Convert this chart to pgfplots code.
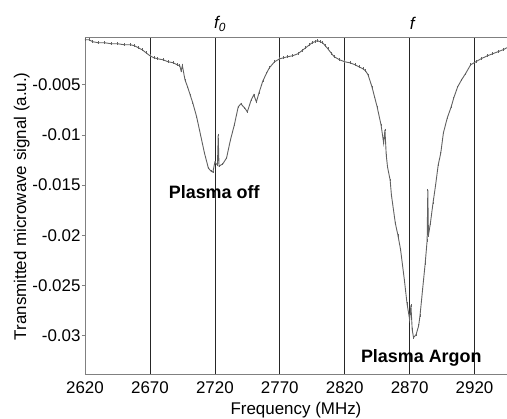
\documentclass[border=0pt]{standalone}
\usepackage{pgfplots}
\pgfplotsset{compat=1.18}
\usepackage{fontspec}
\setmainfont{Liberation Sans}
\begin{document}
\begin{tikzpicture}
\begin{axis}[
  name=ax,
  scale only axis,
  width=422bp, height=337bp,
  xmin=2620, xmax=2945, ymin=-0.0339, ymax=-0.0003,
  axis x line*=box, axis y line*=left,
  axis line style={gray, line width=1pt},
  /pgf/number format/assume math mode=true,
  tick label style={font=\fontsize{17}{20}\selectfont},
  label style={font=\fontsize{17}{20}\selectfont},
  xtick={2620,2670,2720,2770,2820,2870,2920},
  xticklabels={2620,2670,2720,2770,2820,2870,2920},
  ytick={-0.03,-0.025,-0.02,-0.015,-0.01,-0.005},
  yticklabels={-0.03,-0.025,-0.02,-0.015,-0.01,-0.005},
  scaled y ticks=false,
  xmajorgrids, grid style={black!85, line width=0.6pt},
  major x tick style={draw=none},
  major y tick style={gray, line width=0.8pt},
  tick align=outside, major tick length=3bp,
  xticklabel style={yshift=0bp},
  yticklabel style={xshift=2bp},
  xlabel={Frequency (MHz)},
  ylabel={Transmitted microwave signal (a.u.)},
  xlabel style={yshift=-2bp},
  ylabel style={yshift=-4bp},
  clip mode=individual,
]
\addplot[black!62, line width=0.9pt, mark=|, mark size=1.3pt, mark options={line width=0.6pt}] coordinates {
(2620,-0.0005) (2623,-0.0005) (2626,-0.0007) (2630,-0.0008) (2635,-0.0008) (2640,-0.0009)
(2645,-0.0009) (2650,-0.0010) (2655,-0.0010) (2658,-0.0011) (2661,-0.0013) (2664,-0.0015)
(2667,-0.0018) (2670,-0.0021) (2673,-0.0023) (2676,-0.0024) (2680,-0.0025) (2684,-0.0027)
(2688,-0.0028) (2691,-0.0030) (2693,-0.0031) (2694,-0.0036) (2695,-0.0031) (2697,-0.0045) (2699,-0.0052)
(2701,-0.0060) (2703,-0.0068) (2706,-0.0082) (2709,-0.0100) (2712,-0.0118)
(2715,-0.0133) (2717,-0.0136) (2718.5,-0.0137) (2720,-0.0127) (2722,-0.0130)
(2722.6,-0.0100) (2723.2,-0.0131) (2726,-0.0129) (2729,-0.0123) (2732,-0.0105)
(2735,-0.0090) (2738,-0.0072) (2740,-0.0069) (2743,-0.0073) (2745,-0.0077)
(2748,-0.0065) (2750,-0.0060) (2752,-0.0067) (2754,-0.0058) (2757,-0.0046)
(2760,-0.0038) (2762,-0.0033) (2766,-0.0027) (2770,-0.0024) (2773,-0.0023) (2776,-0.0022) (2780,-0.0021)
(2784,-0.0019) (2787,-0.0016) (2790,-0.0013) (2793,-0.0010) (2795,-0.0008) (2797,-0.0007) (2799,-0.0006)
(2801,-0.0007) (2803,-0.0008) (2805,-0.0011) (2807,-0.0014) (2810,-0.0019) (2812,-0.0022)
(2816,-0.0025) (2820,-0.0027) (2824,-0.0028) (2828,-0.0030) (2831,-0.0032) (2834,-0.0034)
(2836,-0.0036) (2838,-0.0040) (2841,-0.0052) (2843,-0.0062) (2845,-0.0072) (2848,-0.0090)
(2850,-0.0108) (2851,-0.0095) (2852,-0.0120) (2853,-0.0132) (2855,-0.0145) (2856,-0.0160) (2859,-0.0188)
(2861,-0.0200) (2863,-0.0214) (2866,-0.0245) (2868,-0.0268) (2870,-0.0284)
(2871,-0.0270) (2872,-0.0294) (2873,-0.0302) (2875,-0.0299) (2877,-0.0290) (2878,-0.0280)
(2880,-0.0254) (2882,-0.0228) (2883.5,-0.0205) (2884,-0.0155) (2884.5,-0.0200)
(2886,-0.0188) (2888,-0.0168) (2890,-0.0150) (2892,-0.0130) (2894,-0.0118)
(2896,-0.0098) (2899,-0.0083) (2902,-0.0072) (2904,-0.0063) (2907,-0.0052) (2910,-0.0045)
(2913,-0.0039) (2917,-0.0030) (2921,-0.0027) (2925,-0.0024) (2930,-0.0021) (2934,-0.0019)
(2938,-0.0017) (2942,-0.0015) (2945,-0.0013)
};
\node[font=\bfseries\fontsize{18}{21}\selectfont] at (axis cs:2719.5,-0.01566) {Plasma off};
\node[font=\bfseries\fontsize{18}{21}\selectfont] at (axis cs:2879,-0.0322) {Plasma Argon};
\node[font=\itshape\fontsize{17}{20}\selectfont, yshift=14bp] at (axis cs:2724,-0.0003) {f\textsubscript{0}};
\node[font=\itshape\fontsize{17}{20}\selectfont, yshift=14bp] at (axis cs:2872,-0.0003) {f};
\end{axis}
\pgfresetboundingbox
\path[use as bounding box] ([xshift=-85bp,yshift=-44bp]ax.south west) rectangle ([yshift=37.7bp]ax.north east);
\end{tikzpicture}
\end{document}
